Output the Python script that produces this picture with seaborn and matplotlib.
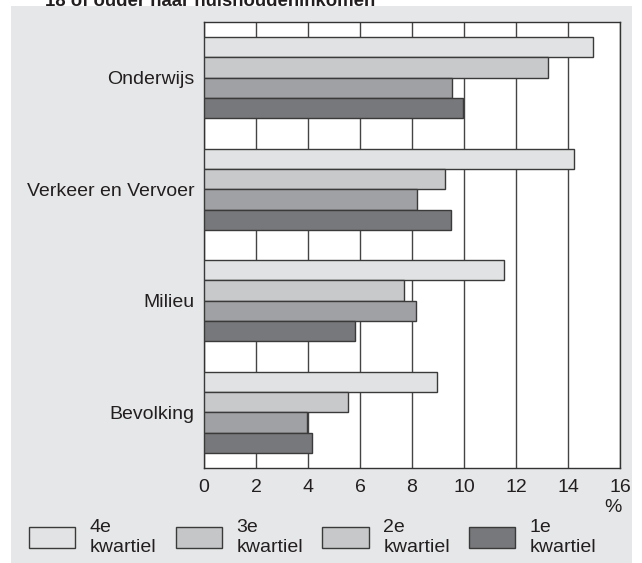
import matplotlib
matplotlib.use('Agg')
import matplotlib.pyplot as plt
import seaborn as sns
import pandas as pd
from matplotlib.patches import Patch, Rectangle

# data
categories = ['Onderwijs', 'Verkeer en Vervoer', 'Milieu', 'Bevolking']
quartiles = ['4e\nkwartiel', '3e\nkwartiel', '2e\nkwartiel', '1e\nkwartiel']
q4 = [14.95, 14.24, 11.54, 8.96]
q3 = [13.24, 9.27, 7.68, 5.53]
q2 = [9.53, 8.18, 8.15, 3.96]
q1 = [9.96, 9.51, 5.81, 4.14]
x_ticks = [0, 2, 4, 6, 8, 10, 12, 14, 16]

bar_colors = ['#e1e2e3', '#c8c9cb', '#a0a1a4', '#77787b']
legend_colors = ['#e2e3e4', '#c5c6c7', '#c7c8c9', '#77787b']
bg = '#e6e7e8'

rows = []
for q, vals in zip(quartiles, [q4, q3, q2, q1]):
    for c, v in zip(categories, vals):
        rows.append({'categorie': c, 'kwartiel': q, 'pct': v})
df = pd.DataFrame(rows)

sns.set_style('white')
plt.rcParams['font.family'] = ['Liberation Sans', 'DejaVu Sans']

fig = plt.figure(figsize=(6.42, 5.63), dpi=100, facecolor='white')
fig.patches.append(Rectangle((11 / 642, 0), 621 / 642, 557 / 563,
                             transform=fig.transFigure, facecolor=bg,
                             edgecolor='none', zorder=-10))

ax = fig.add_axes([204 / 642, 1 - 468 / 563, 416 / 642, 446 / 563])
ax.set_facecolor('white')
ax.set_zorder(1)

sns.barplot(data=df, y='categorie', x='pct', hue='kwartiel',
            order=categories, hue_order=quartiles, palette=bar_colors,
            orient='h', width=0.73, gap=0, edgecolor='#3a3a3a',
            linewidth=1.0, legend=False, ax=ax, zorder=3)

ax.set_xlim(0, 16)
ax.set_ylim(3.5, -0.5)
ax.set_xticks(x_ticks)
ax.set_xticklabels([str(t) for t in x_ticks], fontsize=14, color='#231f20')
ax.tick_params(axis='both', length=0, pad=8)
ax.tick_params(axis='y', labelsize=14, labelcolor='#231f20', pad=7)
ax.set_xlabel('')
ax.set_ylabel('')
ax.grid(axis='x', color='#444444', linewidth=1.0, zorder=0)
ax.set_axisbelow(True)
for s in ax.spines.values():
    s.set_visible(True)
    s.set_color('#333333')
    s.set_linewidth(1.0)

fig.text(613 / 642, 1 - 508 / 563, '%', fontsize=14, color='#231f20',
         ha='center', va='center')

# title cut off at the top edge of the picture (as in the source scan)
fig.text(45 / 642, 1 - 1 / 563, '18 of ouder naar huishoudeninkomen',
         fontsize=13.4, fontweight='bold', color='#231f20',
         ha='left', va='center')

handles = [Patch(facecolor=c, edgecolor='#3a3a3a', linewidth=1.0)
           for c in legend_colors]
fig.legend(handles, quartiles, loc='upper left',
           bbox_to_anchor=(29 / 642, 1 - 519 / 563), ncol=4,
           frameon=False, fontsize=14, handlelength=2.37, handleheight=1.25,
           handletextpad=0.75, columnspacing=1.0, labelcolor='#231f20',
           borderaxespad=0, borderpad=0)

fig.savefig('out.png', dpi=100, facecolor='white')
